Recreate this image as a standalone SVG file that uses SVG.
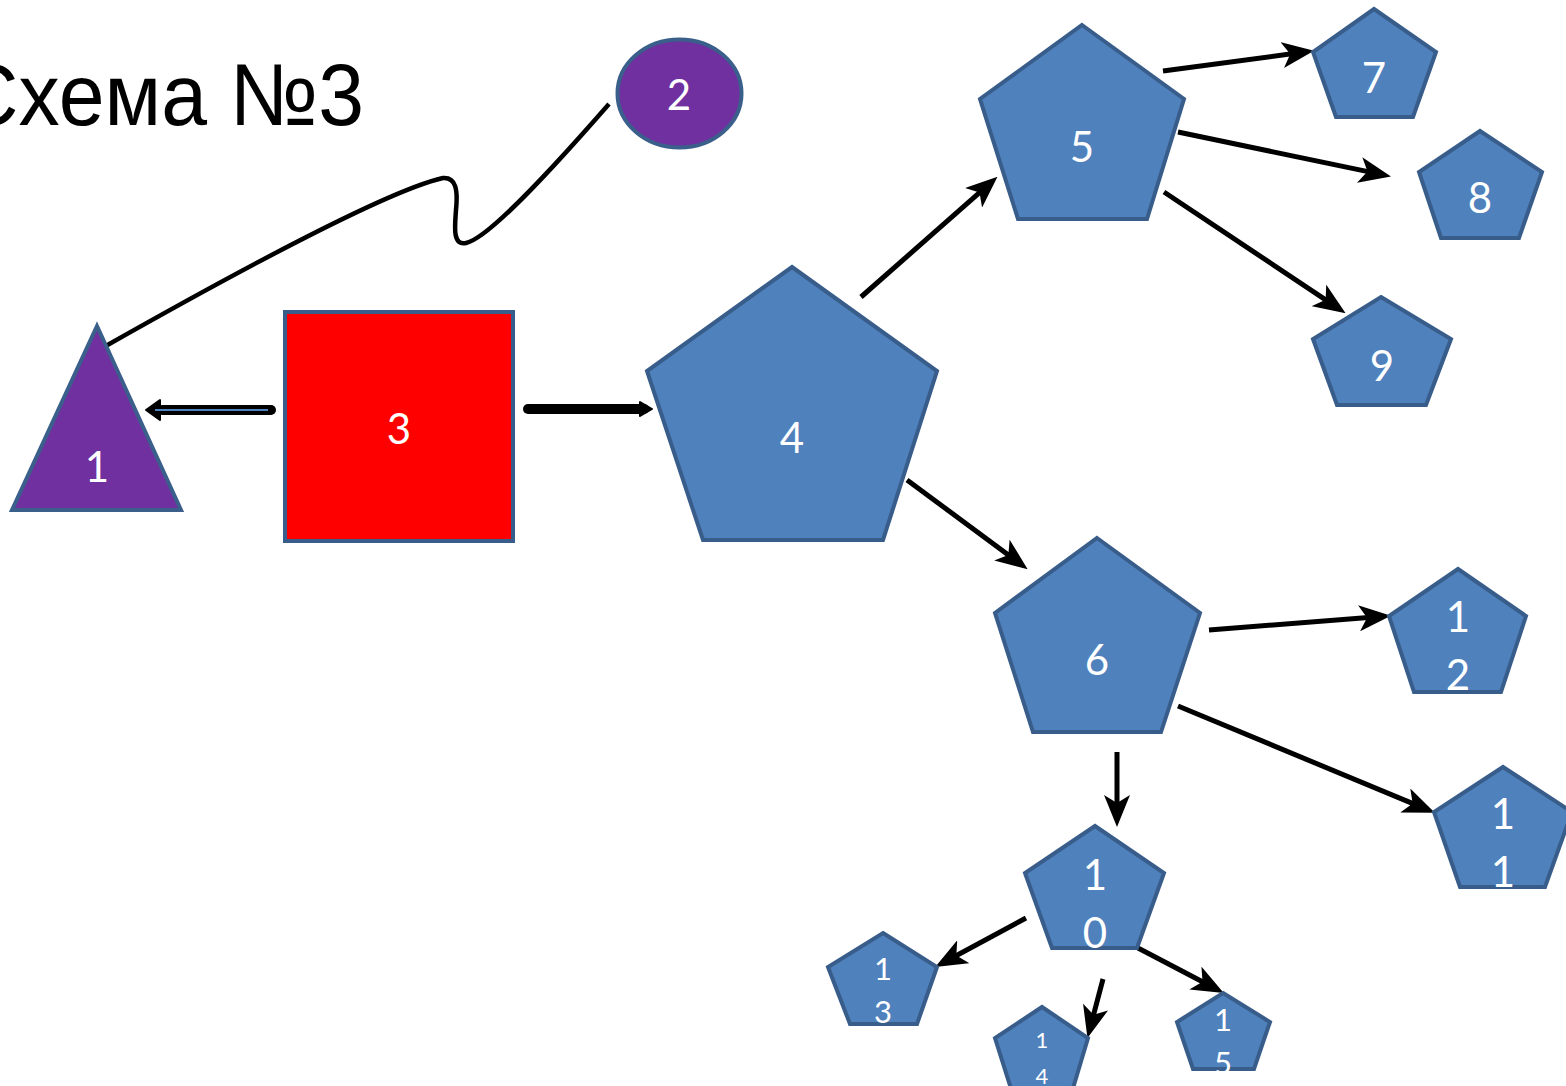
<svg xmlns="http://www.w3.org/2000/svg" width="1566" height="1086" viewBox="0 0 1566 1086">
<style>
.pent{fill:#4F81BD;stroke:#385D8A;stroke-width:4;stroke-linejoin:miter}
.purple{fill:#7030A0;stroke:#3A5F8B;stroke-width:4}
.red{fill:#FF0000;stroke:#385D8A;stroke-width:4}
.lbl{font-family:Lato,"Open Sans","Noto Sans",sans-serif;fill:#FFFFFF;text-anchor:middle;font-size:42px}
.sm{font-size:31px}
.xs{font-size:22px}
.conn{stroke:#000;stroke-width:5;fill:none;marker-end:url(#ah)}
.title{font-family:"Liberation Sans",Arial,sans-serif;font-size:88px;fill:#000}
</style>
<defs>
<marker id="ah" markerUnits="userSpaceOnUse" markerWidth="32" markerHeight="26" refX="22" refY="13" orient="auto" viewBox="0 0 32 26">
<path d="M0,0 L32,13 L0,26 L8,13 Z" fill="#000"/>
</marker>
</defs>
<rect width="1566" height="1086" fill="#FFFFFF"/>
<text class="title" x="-41" y="125" textLength="405" lengthAdjust="spacingAndGlyphs">Схема №3</text>
<g id="connectors">
<path d="M609,104 C560,160 490,238 466,243 C452,246 455,225 456,210 C458,190 456,177 443,178 C390,190 240,270 104,347" fill="none" stroke="#000" stroke-width="4.5"/>
<line x1="162" y1="410" x2="271" y2="410" stroke="#000" stroke-width="10" stroke-linecap="round"/>
<polygon points="146,410 160,400 160,420" fill="#000" stroke="#000" stroke-width="2" stroke-linejoin="round"/>
<line x1="155" y1="410" x2="268" y2="410" stroke="#4F81BD" stroke-width="2"/>
<line x1="528" y1="409" x2="644" y2="409" stroke="#000" stroke-width="10" stroke-linecap="round"/>
<polygon points="640,402 652,409 640,416" fill="#000" stroke="#000" stroke-width="2" stroke-linejoin="round"/>
<line class="conn" x1="861" y1="297" x2="990" y2="183.3"/>
<line class="conn" x1="907" y1="480" x2="1019.6" y2="563.2"/>
<line class="conn" x1="1163" y1="71" x2="1304.1" y2="52.1"/>
<line class="conn" x1="1178" y1="132" x2="1381.2" y2="174.4"/>
<line class="conn" x1="1164" y1="192" x2="1337.3" y2="307.6"/>
<line class="conn" x1="1209" y1="630" x2="1381" y2="616.6"/>
<line class="conn" x1="1178" y1="706" x2="1425.6" y2="808.9"/>
<line class="conn" x1="1117" y1="752" x2="1117" y2="817"/>
<line class="conn" x1="1026" y1="918" x2="944" y2="962.2"/>
<line class="conn" x1="1103" y1="979" x2="1090" y2="1028.3"/>
<line class="conn" x1="1138" y1="948" x2="1214.9" y2="988.3"/>
</g>
<g id="n1"><polygon class="purple" points="97,326 181,510 12,510"/><text class="lbl" x="97" y="482">1</text></g>
<g id="n2"><ellipse class="purple" cx="679.5" cy="93.5" rx="62" ry="54"/><text class="lbl" x="679" y="110">2</text></g>
<g id="n3"><rect class="red" x="285" y="312" width="228" height="229"/><text class="lbl" x="399" y="444">3</text></g>
<g id="n4"><polygon class="pent" points="792,267 937,371 883,540 703,540 647,371"/><text class="lbl" x="792" y="453">4</text></g>
<g id="n5"><polygon class="pent" points="1082,25 1184,99 1147,219 1018,219 980,99"/><text class="lbl" x="1082" y="162">5</text></g>
<g id="n6"><polygon class="pent" points="1097,538 1200,613 1161,732 1033,732 995,613"/><text class="lbl" x="1097" y="675">6</text></g>
<g id="n7"><polygon class="pent" points="1374,9 1436,52 1413,117 1336,117 1313,52"/><text class="lbl" x="1374" y="93">7</text></g>
<g id="n8"><polygon class="pent" points="1480,131 1542,172 1519,238 1441,238 1419,172"/><text class="lbl" x="1480" y="213">8</text></g>
<g id="n9"><polygon class="pent" points="1381,297 1451,339 1426,405 1337,405 1313,339"/><text class="lbl" x="1382" y="381">9</text></g>
<g id="n10"><polygon class="pent" points="1095,826 1164,873 1137,948 1052,948 1025,873"/><text class="lbl" x="1095" y="890">1<tspan x="1095" y="948">0</tspan></text></g>
<g id="n11"><polygon class="pent" points="1503,767 1572,812 1545,887 1460,887 1434,812"/><text class="lbl" x="1503" y="829">1<tspan x="1503" y="887">1</tspan></text></g>
<g id="n12"><polygon class="pent" points="1458,569 1526,616 1501,692 1414,692 1389,616"/><text class="lbl" x="1458" y="632">1<tspan x="1458" y="690">2</tspan></text></g>
<g id="n13"><polygon class="pent" points="883,933 937,967 917,1024 850,1024 828,967"/><text class="lbl sm" x="883" y="980">1<tspan x="883" y="1023">3</tspan></text></g>
<g id="n14"><polygon class="pent" points="1042,1007 1088,1038 1071,1095 1013,1095 995,1038"/><text class="lbl xs" x="1042" y="1048">1<tspan x="1042" y="1084">4</tspan></text></g>
<g id="n15"><polygon class="pent" points="1223,993 1270,1022 1254,1069 1193,1069 1177,1022"/><text class="lbl sm" x="1223" y="1031">1<tspan x="1223" y="1074">5</tspan></text></g>
</svg>
